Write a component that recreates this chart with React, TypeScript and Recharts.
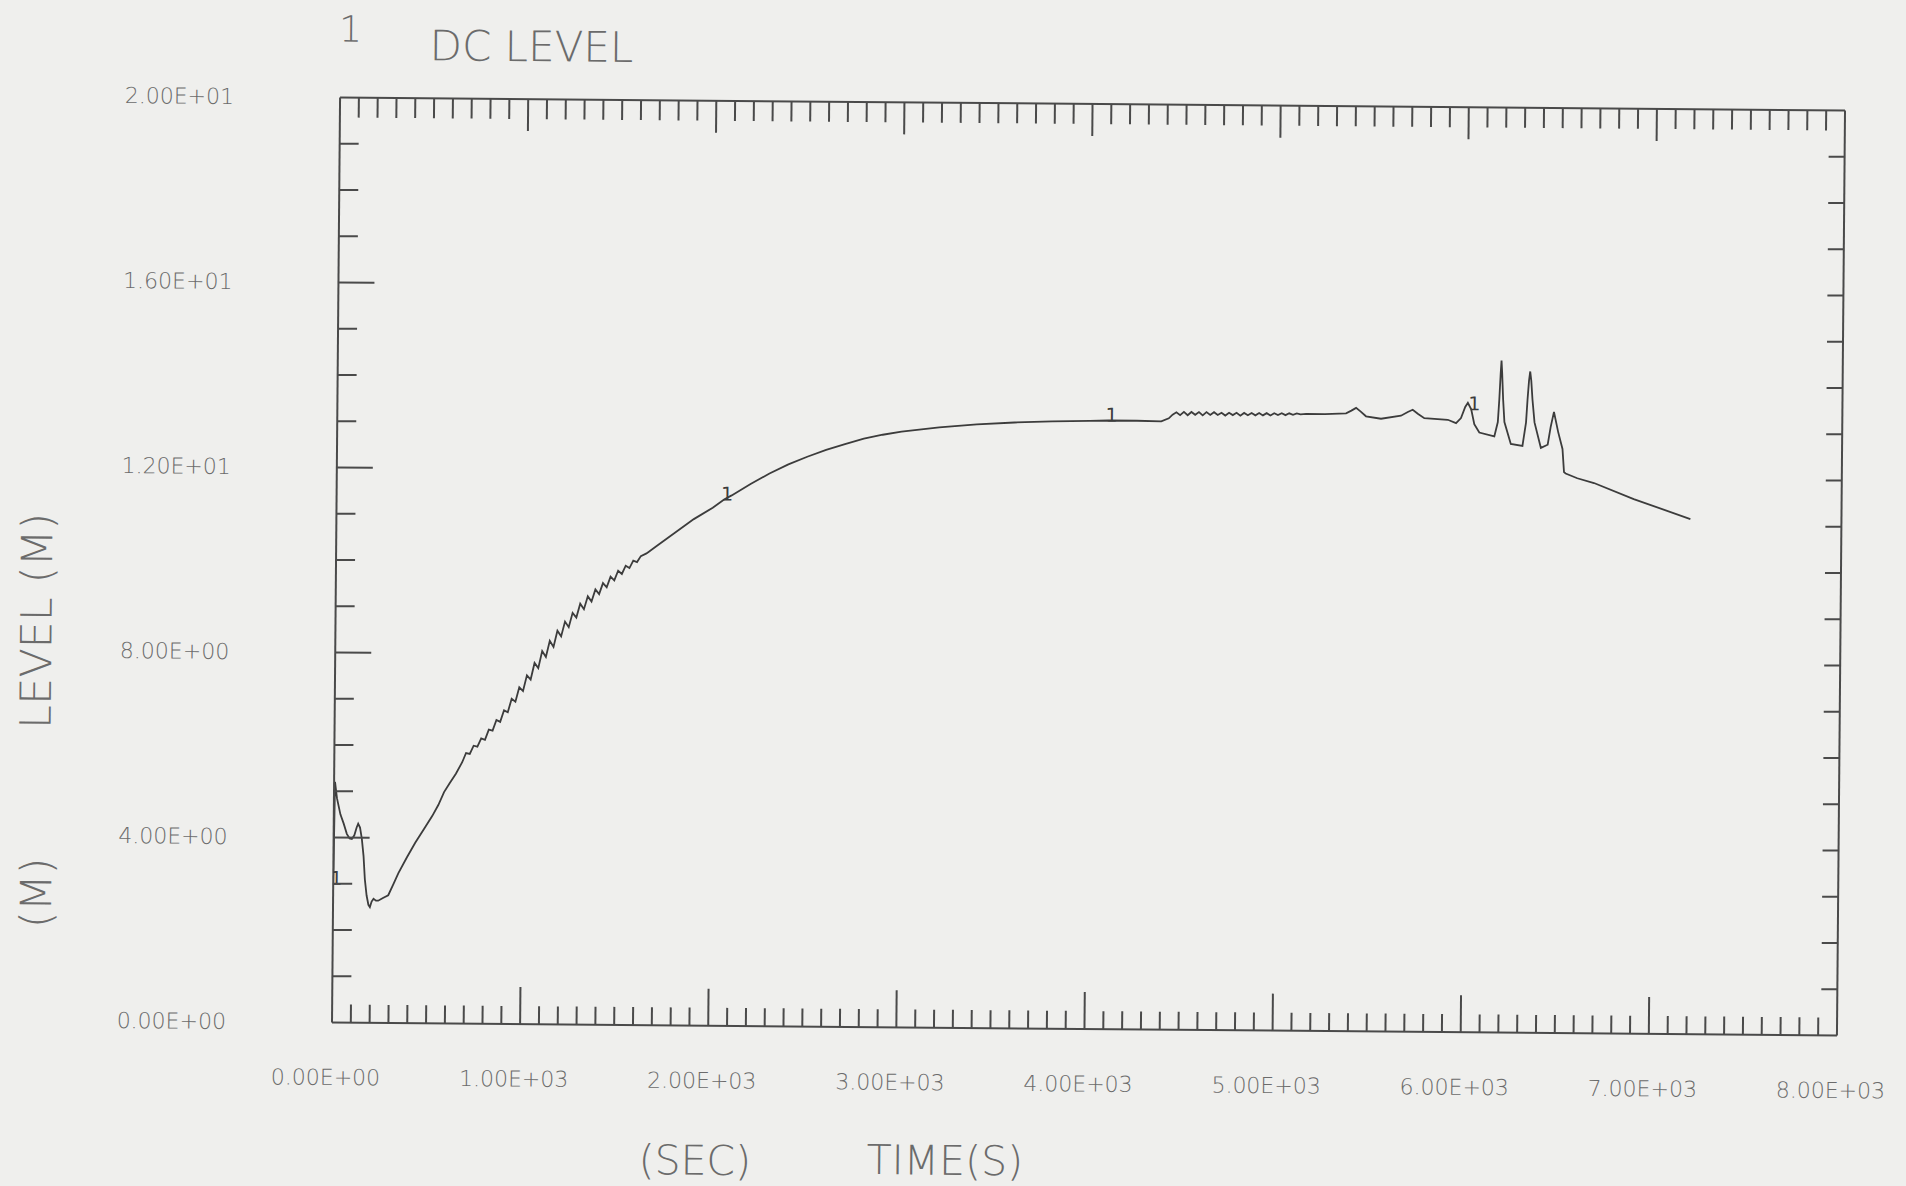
import React from 'react';
import { LineChart, Line, XAxis, YAxis, Customized } from 'recharts';

// Downcomer level history: time (s) against collapsed level (m)
const times = [
  0, 5, 16, 35, 53, 70, 85, 97, 110, 122, 130, 140, 150, 160, 168, 178, 188, 196, 205, 215,
  228, 240, 265, 293, 320, 346, 390, 434, 480, 523, 555, 585, 615, 647, 680,
  700, 720, 740, 760, 780, 800, 820, 840, 860, 880, 900, 920, 940, 960, 980, 1000,
  1020, 1040, 1060, 1080, 1100, 1120, 1140, 1160, 1180, 1200, 1220, 1240, 1260, 1280, 1300,
  1320, 1340, 1360, 1380, 1400, 1420, 1440, 1460, 1480, 1500, 1520, 1540, 1560, 1580, 1600,
  1620, 1650,
  1700, 1800, 1900, 2000, 2060, 2100, 2200, 2300, 2400, 2500, 2600, 2700, 2800, 2900, 3000,
  3200, 3400, 3600, 3800, 4000, 4100, 4250, 4380, 4420, 4440,
  4460, 4480, 4500, 4520, 4540, 4560, 4580, 4600, 4620, 4640, 4660, 4680, 4700, 4720, 4740,
  4760, 4780, 4800, 4820, 4840, 4860, 4880, 4900, 4920, 4940, 4960, 4980, 5000, 5020, 5040,
  5060, 5080, 5100, 5120, 5150,
  5250, 5362, 5390, 5415, 5440, 5468, 5548, 5654, 5690, 5716, 5745, 5778, 5903, 5947, 5973,
  5995, 6009, 6027, 6044, 6071, 6151, 6169, 6176, 6182, 6186, 6190, 6196, 6204, 6239, 6301,
  6319, 6326, 6333, 6339, 6345, 6352, 6364, 6399, 6435, 6450, 6467, 6490, 6514, 6523, 6532,
  6594, 6683, 6895, 7197,
];

const levels = [
  3.0, 5.2, 4.85, 4.5, 4.3, 4.08, 3.98, 3.97, 4.05, 4.22, 4.3, 4.22, 3.98, 3.6, 3.1, 2.75, 2.55, 2.5, 2.62, 2.68,
  2.64, 2.64, 2.7, 2.76, 3.0, 3.24, 3.58, 3.9, 4.2, 4.48, 4.72, 5.0, 5.2, 5.4, 5.65,
  5.85, 5.83, 6.01, 5.99, 6.17, 6.14, 6.36, 6.34, 6.57, 6.53, 6.78, 6.74, 7.03, 6.97, 7.28, 7.2,
  7.54, 7.45, 7.81, 7.7, 8.07, 7.94, 8.29, 8.16, 8.51, 8.39, 8.71, 8.59, 8.9, 8.8, 9.1,
  8.98, 9.26, 9.15, 9.41, 9.31, 9.55, 9.46, 9.69, 9.61, 9.82, 9.75, 9.93, 9.88, 10.04, 10.01,
  10.14, 10.2,
  10.35, 10.65, 10.95, 11.2, 11.38, 11.47, 11.72, 11.95, 12.15, 12.32, 12.47, 12.6, 12.72, 12.81, 12.88,
  12.98, 13.05, 13.1, 13.13, 13.15, 13.16, 13.16, 13.15, 13.22, 13.3,
  13.35, 13.29, 13.36, 13.29, 13.36, 13.3, 13.36, 13.29, 13.36, 13.3, 13.36, 13.3, 13.35, 13.29, 13.35,
  13.3, 13.35, 13.29, 13.35, 13.3, 13.35, 13.3, 13.35, 13.3, 13.35, 13.3, 13.35, 13.31, 13.35, 13.31,
  13.35, 13.32, 13.35, 13.33, 13.34,
  13.34, 13.36, 13.42, 13.48, 13.4, 13.3, 13.25, 13.32, 13.4, 13.45, 13.36, 13.27, 13.24, 13.17, 13.28,
  13.52, 13.61, 13.47, 13.15, 12.97, 12.89, 13.2, 13.7, 14.25, 14.53, 14.25, 13.7, 13.2, 12.73, 12.69,
  13.2, 13.7, 14.1, 14.3, 14.1, 13.7, 13.2, 12.65, 12.72, 13.1, 13.43, 13.0, 12.63, 12.13, 12.1,
  12.0, 11.9, 11.56, 11.14,
];

// points where the plotter wrote the curve number
const markerTimes = [0, 2060, 4100, 6027];

const xMajorTicks = [0, 1000, 2000, 3000, 4000, 5000, 6000, 7000, 8000];
const xTickLabels = ['0.00E+00', '1.00E+03', '2.00E+03', '3.00E+03', '4.00E+03', '5.00E+03', '6.00E+03', '7.00E+03', '8.00E+03'];
const xTicks = Array.from({ length: 81 }, (_, i) => i * 100);

const yTicks = [0, 1, 2, 3, 4, 5, 6, 7, 8, 9, 10, 11, 12, 13, 14, 15, 16, 17, 18, 19, 20];
const yMajorTicks = [0, 4, 8, 12, 16, 20];
const yTickLabels = ['0.00E+00', '4.00E+00', '8.00E+00', '1.20E+01', '1.60E+01', '2.00E+01'];

const data = times.map((t, i) => ({ time: t, level: levels[i], marker: markerTimes.includes(t) }));

const INK = '#4a4a4a';
const TEXT = '#6b6b6b';
const FONT = "'DejaVu Sans', sans-serif";

const BottomTick = ({ x, y, payload }: any) => {
  const idx = xMajorTicks.indexOf(payload.value);
  const edge = payload.value === 0 || payload.value === 8000;
  return (
    <g>
      {!edge && (
        <line x1={x} y1={y} x2={x} y2={y - (idx >= 0 ? 37 : 18)} stroke={INK} strokeWidth={2} />
      )}
      {idx >= 0 && (
        <text x={x - 6} y={y + 55} textAnchor="middle" dominantBaseline="central"
          fontSize={22} fontFamily={FONT} fontWeight={200} fill={TEXT}>
          {xTickLabels[idx]}
        </text>
      )}
    </g>
  );
};

const TopTick = ({ x, y, payload }: any) => {
  const major = xMajorTicks.includes(payload.value);
  if (payload.value === 0 || payload.value === 8000) return <g />;
  return <line x1={x} y1={y} x2={x} y2={y + (major ? 32 : 20)} stroke={INK} strokeWidth={2} />;
};

const LeftTick = ({ x, y, payload }: any) => {
  const idx = yMajorTicks.indexOf(payload.value);
  const edge = payload.value === 0 || payload.value === 20;
  return (
    <g>
      {!edge && (
        <line x1={x} y1={y} x2={x + (idx >= 0 ? 36 : 19)} y2={y} stroke={INK} strokeWidth={2} />
      )}
      {idx >= 0 && (
        <text x={x - 106} y={y} textAnchor="end" dominantBaseline="central"
          fontSize={22} fontFamily={FONT} fontWeight={200} fill={TEXT}>
          {yTickLabels[idx]}
        </text>
      )}
    </g>
  );
};

const RightTick = ({ x, y, payload }: any) => {
  if (payload.value === 0 || payload.value === 20) return <g />;
  return <line x1={x} y1={y} x2={x - 16} y2={y} stroke={INK} strokeWidth={2} />;
};

const renderMarker = (props: any) => {
  const { cx, cy, payload, index } = props;
  if (!payload.marker) return <g key={`m-${index}`} />;
  return (
    <text key={`m-${index}`} x={cx + 3} y={cy + 1} textAnchor="middle"
      fontSize={19} fontFamily={FONT} fill="#3c3c3c">
      1
    </text>
  );
};

const Titles = () => (
  <g fill={TEXT} fontFamily={FONT} fontWeight={200}>
    <text x={346} y={48} fontSize={36} textAnchor="middle">1</text>
    <text x={527} y={66} fontSize={42} textAnchor="middle">DC LEVEL</text>
    <text transform="translate(37,630) rotate(-90)" textAnchor="middle" dominantBaseline="central" fontSize={43}>
      LEVEL (M)
    </text>
    <text transform="translate(39,902) rotate(-90)" textAnchor="middle" dominantBaseline="central" fontSize={43}>
      (M)
    </text>
    <text x={700} y={1164} textAnchor="middle" dominantBaseline="central" fontSize={41}>(SEC)</text>
    <text x={950} y={1162} textAnchor="middle" dominantBaseline="central" fontSize={41}>TIME(S)</text>
  </g>
);

export default function App() {
  return (
    <div style={{ position: 'absolute', left: 0, top: 0, width: 1906, height: 1186, overflow: 'hidden', background: '#efefed' }}>
      <div style={{ transform: 'rotate(0.5deg)', transformOrigin: '1088px 567px' }}>
        <LineChart width={1906} height={1186} data={data}
          margin={{ top: 84, left: 206, right: 45, bottom: 77 }}>
          <XAxis xAxisId="bottom" dataKey="time" type="number" domain={[0, 8000]} allowDataOverflow
            ticks={xTicks} interval={0} height={80} tickSize={0} tickMargin={0} tickLine={false}
            axisLine={{ stroke: INK, strokeWidth: 2 }} tick={BottomTick} />
          <XAxis xAxisId="top" orientation="top" dataKey="time" type="number" domain={[0, 8000]} allowDataOverflow
            ticks={xTicks} interval={0} height={20} tickSize={0} tickMargin={0} tickLine={false}
            axisLine={{ stroke: INK, strokeWidth: 2 }} tick={TopTick} />
          <YAxis yAxisId="left" type="number" domain={[0, 20]} allowDataOverflow
            ticks={yTicks} interval={0} width={130} tickSize={0} tickMargin={0} tickLine={false}
            axisLine={{ stroke: INK, strokeWidth: 2 }} tick={LeftTick} />
          <YAxis yAxisId="right" orientation="right" type="number" domain={[0, 20]} allowDataOverflow
            ticks={yTicks} interval={0} width={20} tickSize={0} tickMargin={0} tickLine={false}
            axisLine={{ stroke: INK, strokeWidth: 2 }} tick={RightTick} />
          <Line xAxisId="bottom" yAxisId="left" type="linear" dataKey="level" stroke="#3c3c3c"
            strokeWidth={1.8} dot={renderMarker} activeDot={false} isAnimationActive={false} />
          <Customized component={Titles} />
        </LineChart>
      </div>
    </div>
  );
}
